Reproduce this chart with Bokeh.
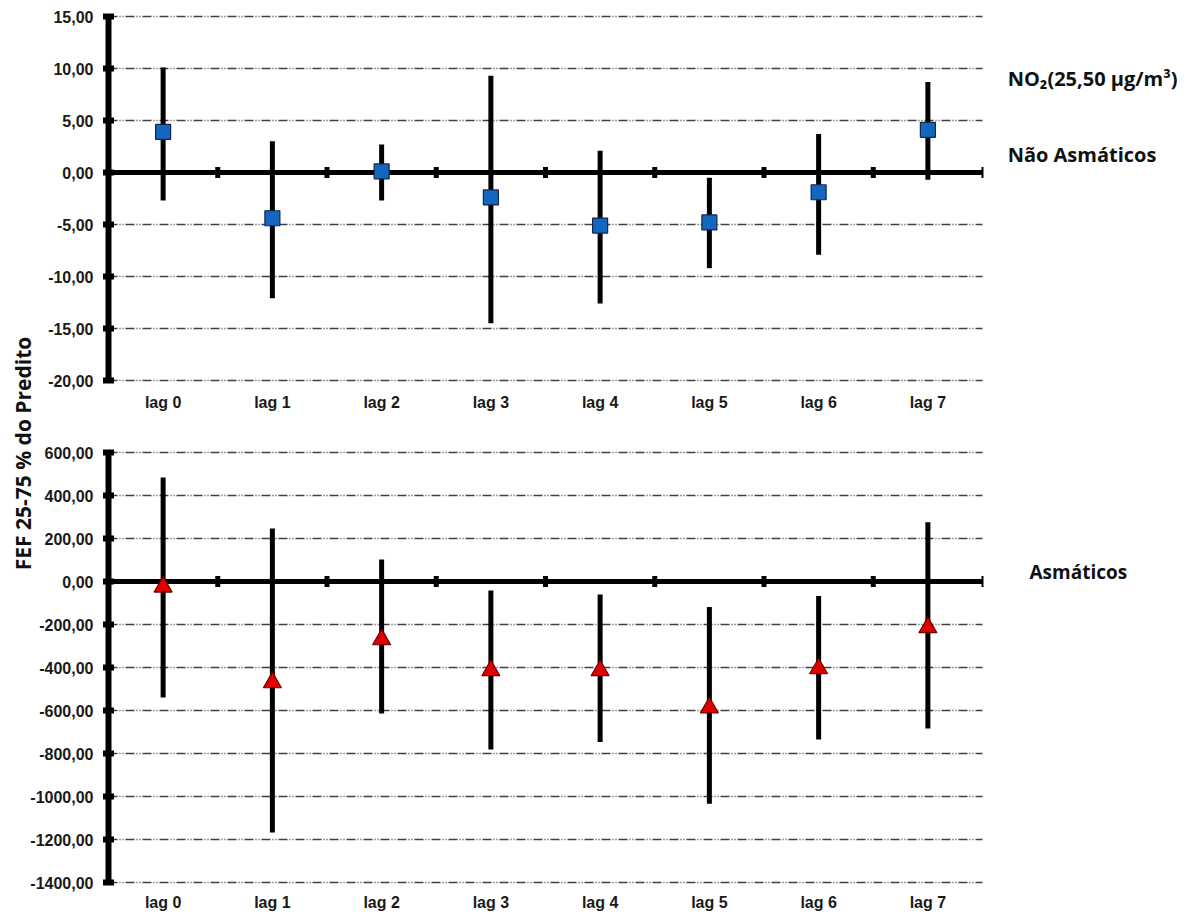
import math
from bokeh.plotting import figure
from bokeh.models import Range1d
from bokeh.core.properties import value
from bokeh.embed import file_html
from bokeh.resources import INLINE

# ---- data -------------------------------------------------------------
lags = ["lag 0", "lag 1", "lag 2", "lag 3", "lag 4", "lag 5", "lag 6", "lag 7"]

# Não Asmáticos: estimate and 95% interval
nao_mean = [3.9, -4.4, 0.1, -2.4, -5.1, -4.8, -1.9, 4.1]
nao_upper = [10.1, 3.0, 2.7, 9.3, 2.1, -0.5, 3.7, 8.7]
nao_lower = [-2.7, -12.1, -2.7, -14.5, -12.6, -9.2, -7.9, -0.7]

# Asmáticos: estimate and 95% interval
asm_mean = [-25, -470, -270, -414, -414, -587, -405, -214]
asm_upper = [484, 247, 102, -42, -60, -119, -68, 276]
asm_lower = [-540, -1167, -614, -781, -747, -1034, -735, -684]

top_ticks = [15, 10, 5, 0, -5, -10, -15, -20]
top_tick_labels = ["15,00", "10,00", "5,00", "0,00", "-5,00", "-10,00", "-15,00", "-20,00"]
bottom_ticks = [600, 400, 200, 0, -200, -400, -600, -800, -1000, -1200, -1400]
bottom_tick_labels = ["600,00", "400,00", "200,00", "0,00", "-200,00", "-400,00", "-600,00",
                      "-800,00", "-1000,00", "-1200,00", "-1400,00"]

y_title = "FEF 25-75 % do Predito"
pollutant = "NO\u2082(25,50 \u00b5g/m\u00b3)"
group_top = "Não Asmáticos"
group_bottom = "Asmáticos"

# ---- geometry (pixels) ------------------------------------------------
W, H = 1199, 915
axis_x = 108            # screen x of the value axes
cat_px = 109.25         # width of one category slot
top_px0, top_px1 = 16, 380      # screen y of 15 and -20
bot_px0, bot_px1 = 452, 882     # screen y of 600 and -1400

n = len(lags)
centers = [i + 0.5 for i in range(n)]
bounds = [float(i) for i in range(1, n)]

top_scale = (top_px1 - top_px0) / (top_ticks[0] - top_ticks[-1])
bot_scale = (bot_px1 - bot_px0) / (bottom_ticks[0] - bottom_ticks[-1])

# the plotting frame covers the whole canvas; each panel has its own y range
x_range = Range1d(-axis_x / cat_px, (W - axis_x) / cat_px)
top_range = Range1d(top_ticks[0] - (H - top_px0) / top_scale, top_ticks[0] + top_px0 / top_scale)
bot_range = Range1d(bottom_ticks[-1] - (H - bot_px1) / bot_scale,
                    bottom_ticks[-1] + bot_px1 / bot_scale)

p = figure(width=W, height=H, output_backend="svg", toolbar_location=None,
           x_range=x_range, y_range=top_range,
           x_axis_location=None, y_axis_location=None,
           min_border_left=0, min_border_right=0, min_border_top=0, min_border_bottom=0)
p.extra_y_ranges = {"bottom": bot_range}
p.outline_line_color = None
p.background_fill_color = "white"
p.border_fill_color = "white"
p.xgrid.visible = False
p.ygrid.visible = False

tick_font = value("Liberation Sans")
tick_color = "#1a1a1a"
grid_style = dict(line_color="#404040", line_width=1.3, line_dash="9 2 1 2 1 2")

panels = [
    dict(rng="default", ticks=top_ticks, labels=top_tick_labels,
         mean=nao_mean, lo=nao_lower, hi=nao_upper, cat_offset=22),
    dict(rng="bottom", ticks=bottom_ticks, labels=bottom_tick_labels,
         mean=asm_mean, lo=asm_lower, hi=asm_upper, cat_offset=20),
]

for pn in panels:
    r = pn["rng"]
    t = pn["ticks"]
    m = len(t)
    # dash-dot gridlines
    p.segment(x0=[0] * m, x1=[n] * m, y0=t, y1=t, y_range_name=r, **grid_style)
    # zero line with slot separators
    p.segment(x0=[0], x1=[n], y0=[0], y1=[0], y_range_name=r, line_color="black", line_width=5)
    p.rect(x=bounds, y=[0] * len(bounds), width=5, height=11, width_units="screen",
           height_units="screen", y_range_name=r, fill_color="black", line_color=None)
    p.rect(x=[n], y=[0], width=2, height=11, width_units="screen", height_units="screen",
           y_range_name=r, fill_color="black", line_color=None)
    # value axis line, tick marks and tick labels
    p.segment(x0=[0], x1=[0], y0=[t[-1]], y1=[t[0]], y_range_name=r,
              line_color="black", line_width=6)
    p.rect(x=[0] * m, y=t, width=11, height=6, width_units="screen",
           height_units="screen", y_range_name=r, fill_color="black", line_color=None)
    p.text(x=[0] * m, y=t, text=pn["labels"], x_offset=-15, y_range_name=r,
           text_align="right", text_baseline="middle", text_font=tick_font,
           text_font_style="bold", text_font_size="16px", text_color=tick_color)
    # category labels under the panel
    p.text(x=centers, y=[t[-1]] * n, text=lags, y_offset=pn["cat_offset"], y_range_name=r,
           text_align="center", text_baseline="middle", text_font=tick_font,
           text_font_style="bold", text_font_size="16px", text_color=tick_color)
    # confidence intervals
    p.segment(x0=centers, x1=centers, y0=pn["lo"], y1=pn["hi"], y_range_name=r,
              line_color="black", line_width=5)

# point estimates
p.scatter(x=centers, y=nao_mean, marker="square", size=15, fill_color="#1467c0",
          line_color="#14284a", line_width=1.2)
p.scatter(x=centers, y=asm_mean, marker="triangle", size=18, fill_color="#e00000",
          line_color="#6a0000", line_width=1.2, y_range_name="bottom")

# shared value-axis title, centred between the two panels
p.text(x=[-86 / cat_px], y=[top_ticks[0] - (453 - top_px0) / top_scale], text=[y_title],
       angle=math.pi / 2, text_align="center", text_baseline="middle",
       text_font=value("Open Sans"), text_font_style="bold", text_font_size="21px",
       text_color="#111111")

# panel captions on the right
cap = dict(text_font=value("Open Sans"), text_font_style="bold",
           text_color="#111111", text_baseline="middle", text_align="left")
p.text(x=[8.23], y=[9.0], text=[pollutant], text_font_size="20px", **cap)
p.text(x=[8.23], y=[1.7], text=[group_top], text_font_size="20px", **cap)
p.text(x=[8.43], y=[42], text=[group_bottom], y_range_name="bottom",
       text_font_size="19px", **cap)

open("out.html", "w").write(file_html(p, INLINE))
